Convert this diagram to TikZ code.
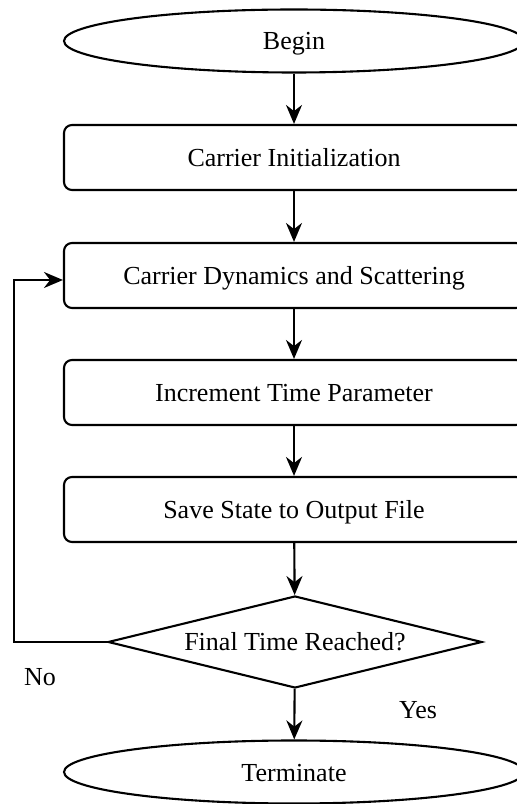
\documentclass[tikz,border=0pt]{standalone}
\usepackage{fontspec}
\setmainfont{Liberation Serif}
\usetikzlibrary{shapes.geometric,arrows.meta}
\begin{document}
\begin{tikzpicture}[x=1pt,y=1pt,
  every node/.style={font=\fontsize{26}{30}\selectfont},
  shapetext/.style={text height=20pt, text depth=2pt},
  term/.style={draw, ellipse, shapetext, line width=2.1pt, minimum width=460pt, minimum height=63pt, inner sep=0pt},
  proc/.style={draw, rounded corners=8pt, shapetext, line width=2.1pt, minimum width=460pt, minimum height=65pt, inner sep=0pt},
  decide/.style={draw, diamond, shapetext, line width=2.1pt, minimum width=374pt, minimum height=92pt, inner sep=0pt, shape aspect=4},
  flow/.style={line width=2.1pt, -{Stealth[length=19pt, width=16pt]}}
]
\useasboundingbox (0,0) rectangle (517,804);
\node[term] (begin) at (294,763) {Begin};
\node[proc] (init) at (294,646.5) {Carrier Initialization};
\node[proc] (dyn) at (294,528.5) {Carrier Dynamics and Scattering};
\node[proc] (inc) at (294,411.5) {Increment Time Parameter};
\node[proc] (save) at (294,294.5) {Save State to Output File};
\node[decide] (dec) at (295,162) {Final Time Reached?};
\node[term] (term) at (294,32) {Terminate};
\coordinate (lb) at (14,162);
\coordinate (lt) at (14,524);
\draw[flow] (begin) -- (init);
\draw[flow] (init) -- (dyn);
\draw[flow] (dyn) -- (inc);
\draw[flow] (inc) -- (save);
\draw[flow] (save) -- (dec);
\draw[flow] (dec) -- (term);
\draw[flow] (dec.west) -- (lb) -- (lt) -- (dyn.west |- lt);
\node (no) at (40,127) {No};
\node (yes) at (418,94) {Yes};
\end{tikzpicture}
\end{document}
